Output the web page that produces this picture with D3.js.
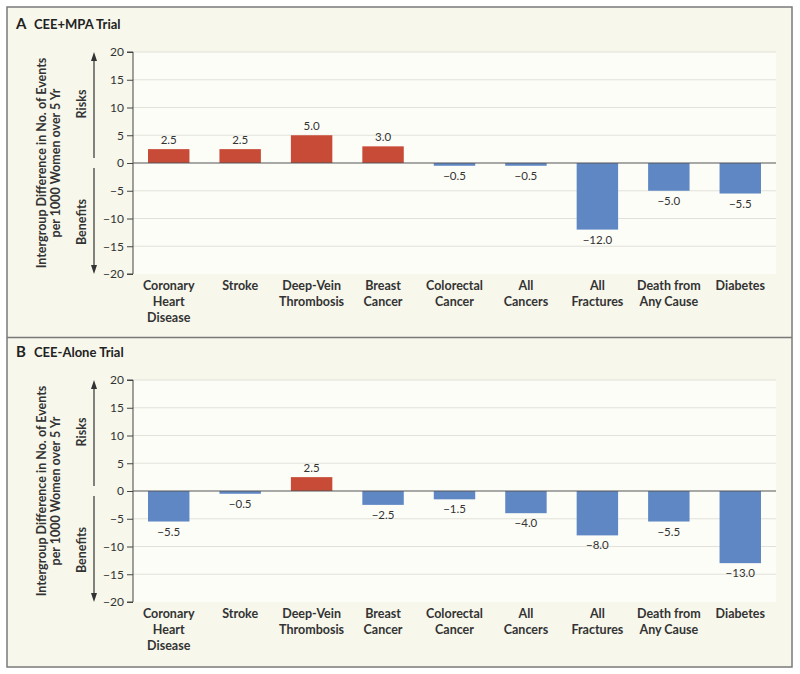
<!DOCTYPE html>
<html><head><meta charset="utf-8">
<script src="https://cdn.jsdelivr.net/npm/d3@7"></script>
<style>body{margin:0;background:#fff;} text{font-family:Lato,"Open Sans",sans-serif;}</style>
</head><body>
<svg id="c" width="800" height="674"></svg>
<script>
const categories = ["Coronary Heart Disease","Stroke","Deep-Vein Thrombosis","Breast Cancer","Colorectal Cancer","All Cancers","All Fractures","Death from Any Cause","Diabetes"];
const categoryLines = [["Coronary","Heart","Disease"],["Stroke"],["Deep-Vein","Thrombosis"],["Breast","Cancer"],["Colorectal","Cancer"],["All","Cancers"],["All","Fractures"],["Death from","Any Cause"],["Diabetes"]];
const valuesA = [2.5, 2.5, 5.0, 3.0, -0.5, -0.5, -12.0, -5.0, -5.5];
const valuesB = [-5.5, -0.5, 2.5, -2.5, -1.5, -4.0, -8.0, -5.5, -13.0];
const yTicks = [20, 15, 10, 5, 0, -5, -10, -15, -20];
const panels = [{letter:"A", title:"CEE+MPA Trial", values:valuesA, top:7, plotTop:52},
                {letter:"B", title:"CEE-Alone Trial", values:valuesB, top:335, plotTop:380}];

const svg = d3.select("#c");
const RED = "#c74b37", BLUE = "#5f87c4";
svg.append("rect").attr("x",7).attr("y",7).attr("width",785).attr("height",660)
  .attr("fill","#f7f7ec").attr("stroke","#7a7a7a").attr("stroke-width",1.5);
svg.append("line").attr("x1",7).attr("x2",792).attr("y1",337.5).attr("y2",337.5)
  .attr("stroke","#7a7a7a").attr("stroke-width",1.5);

const x = d3.scaleBand().domain(categories).range([133,776]).paddingInner(0.42).paddingOuter(0.21);

panels.forEach(p => {
  const g = svg.append("g");
  const y0 = p.plotTop, y1 = p.plotTop + 222;
  const y = d3.scaleLinear().domain([-20,20]).range([y1,y0]);
  g.append("text").attr("x",16).attr("y",p.top+22).attr("font-size",15).attr("font-weight",700).attr("fill","#222").text(p.letter);
  g.append("text").attr("x",34).attr("y",p.top+22).attr("font-size",13).attr("font-weight",700).attr("fill","#222").text(p.title);
  g.append("rect").attr("x",133).attr("y",y0).attr("width",643).attr("height",y1-y0).attr("fill","#fdfdf8");
  g.selectAll(".grid").data(yTicks.filter(t=>t!==0 && t!==-20)).join("line")
    .attr("x1",133).attr("x2",776).attr("y1",d=>y(d)).attr("y2",d=>y(d))
    .attr("stroke","#e2e2da").attr("stroke-width",1.2);
  const ax = g.append("g").attr("transform","translate(133,0)")
    .call(d3.axisLeft(y).tickValues(yTicks).tickSize(6).tickPadding(3).tickFormat(d=>d<0?"\u2212"+Math.abs(d):d));
  ax.select(".domain").attr("stroke","#444").attr("d",`M-6,${y0}H0V${y1}H-6`);
  ax.selectAll(".tick line").attr("stroke","#444");
  ax.selectAll(".tick text").attr("font-size",12).attr("fill","#333").style("font-family","Lato, sans-serif");
  g.selectAll(".bar").data(p.values).join("rect")
    .attr("x",(d,i)=>x(categories[i])).attr("width",x.bandwidth())
    .attr("y",d=>y(Math.max(0,d))).attr("height",d=>Math.abs(y(d)-y(0)))
    .attr("fill",d=>d>0?RED:BLUE);
  g.append("line").attr("x1",133).attr("x2",776).attr("y1",y(0)).attr("y2",y(0)).attr("stroke","#555").attr("stroke-width",1.2);
  g.selectAll(".vl").data(p.values).join("text")
    .attr("x",(d,i)=>x(categories[i])+x.bandwidth()/2)
    .attr("y",d=>d>0?y(d)-5:y(d)+14)
    .attr("text-anchor","middle").attr("font-size",11.5).attr("fill","#333")
    .text(d=>(d<0?"\u2212":"")+Math.abs(d).toFixed(1));
  categoryLines.forEach((lines,i)=>{
    const t = g.append("text").attr("text-anchor","middle").attr("font-size",12.5).attr("font-weight",700).attr("fill","#333");
    lines.forEach((l,j)=>t.append("tspan").attr("x",x(categories[i])+x.bandwidth()/2).attr("y",y1+16+j*16).text(l));
  });
  const cy = (y0+y1)/2;
  g.append("text").attr("transform",`translate(46,${cy}) rotate(-90)`).attr("text-anchor","middle")
    .attr("font-size",12.5).attr("font-weight",700).attr("fill","#333").text("Intergroup Difference in No. of Events");
  g.append("text").attr("transform",`translate(60,${cy}) rotate(-90)`).attr("text-anchor","middle")
    .attr("font-size",12.5).attr("font-weight",700).attr("fill","#333").text("per 1000 Women over 5 Yr");
  g.append("text").attr("transform",`translate(86,${y0+52}) rotate(-90)`).attr("text-anchor","middle")
    .attr("font-size",12.5).attr("font-weight",700).attr("fill","#333").text("Risks");
  g.append("text").attr("transform",`translate(86,${y0+170}) rotate(-90)`).attr("text-anchor","middle")
    .attr("font-size",12.5).attr("font-weight",700).attr("fill","#333").text("Benefits");
  g.append("line").attr("x1",94).attr("x2",94).attr("y1",y0+6).attr("y2",y(0)-5).attr("stroke","#333").attr("stroke-width",1.2);
  g.append("line").attr("x1",94).attr("x2",94).attr("y1",y(0)+5).attr("y2",y1-6).attr("stroke","#333").attr("stroke-width",1.2);
  g.append("path").attr("d",`M94,${y0}L91,${y0+9}L97,${y0+9}Z`).attr("fill","#333");
  g.append("path").attr("d",`M94,${y1}L91,${y1-9}L97,${y1-9}Z`).attr("fill","#333");
});
</script>
</body></html>
